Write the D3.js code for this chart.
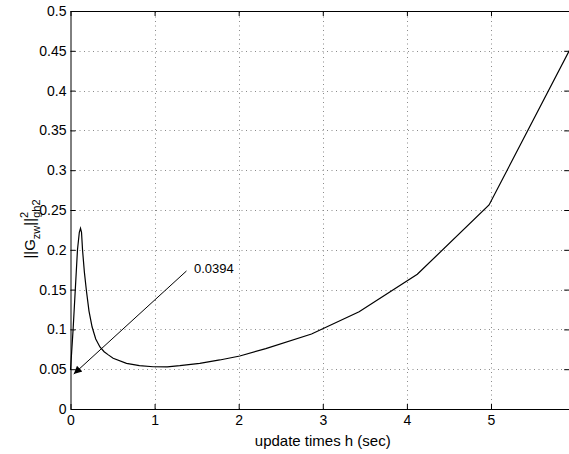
<!DOCTYPE html>
<html>
<head>
<meta charset="utf-8">
<script src="https://cdn.jsdelivr.net/npm/d3@7"></script>
<style>
  body { margin: 0; background: #fff; }
  svg { display: block; font-family: "Liberation Sans", Arial, sans-serif; }
</style>
</head>
<body>
<div id="chart"></div>
<script>
// values
const hValues = [0, 0.031, 0.083, 0.105, 0.119, 0.131, 0.143, 0.165, 0.19, 0.22, 0.257, 0.3, 0.35, 0.4, 0.45, 0.507,
    0.666, 0.82, 0.982, 1.15, 1.30, 1.537, 1.775, 2.013, 2.322, 2.866, 3.432, 4.124, 4.977, 5.93];
const normValues = [0.049, 0.1, 0.2, 0.222, 0.227, 0.222, 0.2, 0.172, 0.148, 0.123, 0.103, 0.088, 0.078, 0.072, 0.068, 0.0637,
    0.0574, 0.0545, 0.0531, 0.053, 0.0544, 0.0574, 0.0616, 0.0666, 0.0758, 0.0942, 0.1222, 0.1693, 0.2563, 0.45];
const xTicks = [0, 1, 2, 3, 4, 5];
const yTicks = [0, 0.05, 0.1, 0.15, 0.2, 0.25, 0.3, 0.35, 0.4, 0.45, 0.5];
const arrowFrom = [1.379, 0.1734];
const arrowTo = [0.039, 0.044];
const noteAt = [1.468, 0.1709];
const noteText = "0.0394";

const W = 569, H = 454;
const plotLeft = 70.5, plotRight = 569.2, plotTop = 11, plotBottom = 409;

const svg = d3.select("#chart")
    .append("svg")
    .attr("width", W)
    .attr("height", H);

svg.append("rect").attr("width", W).attr("height", H).attr("fill", "#fff");

const x = d3.scaleLinear().domain([0, 5.93]).range([plotLeft, plotRight]);
const y = d3.scaleLinear().domain([0, 0.5]).range([plotBottom, plotTop]);

// dotted grid
const grid = svg.append("g")
    .attr("stroke", "#8a8a8a")
    .attr("stroke-width", 1)
    .attr("stroke-dasharray", "1,3.5");

grid.selectAll(".gx")
    .data(xTicks.filter(d => d > 0))
    .enter()
    .append("line")
    .attr("x1", d => Math.round(x(d)) + 0.5)
    .attr("x2", d => Math.round(x(d)) + 0.5)
    .attr("y1", plotBottom)
    .attr("y2", plotTop);

grid.selectAll(".gy")
    .data(yTicks.filter(d => d > 0 && d < 0.5))
    .enter()
    .append("line")
    .attr("y1", d => Math.round(y(d)) + 0.5)
    .attr("y2", d => Math.round(y(d)) + 0.5)
    .attr("x1", plotLeft)
    .attr("x2", plotRight);

// axes, ticks point inward like matlab
svg.append("g")
    .attr("transform", `translate(0, ${plotBottom})`)
    .call(d3.axisBottom(x).tickValues(xTicks).tickFormat(d3.format("d"))
        .tickSizeInner(-5).tickSizeOuter(0).tickPadding(6));

svg.append("g")
    .attr("transform", `translate(${plotLeft}, 0)`)
    .call(d3.axisLeft(y).tickValues(yTicks).tickFormat(d => String(+d.toFixed(2)))
        .tickSizeInner(-5).tickSizeOuter(0).tickPadding(4));

svg.append("g")
    .attr("transform", `translate(0, ${plotTop})`)
    .call(d3.axisTop(x).tickValues(xTicks).tickSizeInner(-5).tickSizeOuter(0).tickFormat(""));

svg.append("g")
    .attr("transform", `translate(${plotRight}, 0)`)
    .call(d3.axisRight(y).tickValues(yTicks).tickSizeInner(-5).tickSizeOuter(0).tickFormat(""));

svg.selectAll(".domain, .tick line").attr("stroke", "#000");
svg.selectAll(".tick text")
    .attr("fill", "#000")
    .style("font-size", "14px")
    .style("font-family", "Liberation Sans, Arial, sans-serif");

// the curve
const line = d3.line()
    .x(d => x(d[0]))
    .y(d => y(d[1]));

svg.append("path")
    .datum(hValues.map((h, i) => [h, normValues[i]]))
    .attr("d", line)
    .attr("fill", "none")
    .attr("stroke", "#000")
    .attr("stroke-width", 1.2);

// annotation arrow
svg.append("defs").append("marker")
    .attr("id", "head")
    .attr("viewBox", "0 0 10 10")
    .attr("refX", 10)
    .attr("refY", 5)
    .attr("markerWidth", 10)
    .attr("markerHeight", 8)
    .attr("markerUnits", "userSpaceOnUse")
    .attr("orient", "auto")
    .append("path")
    .attr("d", "M0,0L10,5L0,10Z")
    .attr("fill", "#000");

svg.append("line")
    .attr("x1", x(arrowFrom[0]))
    .attr("y1", y(arrowFrom[1]))
    .attr("x2", x(arrowTo[0]))
    .attr("y2", y(arrowTo[1]))
    .attr("stroke", "#000")
    .attr("stroke-width", 1)
    .attr("marker-end", "url(#head)");

svg.append("text")
    .text(noteText)
    .attr("x", x(noteAt[0]))
    .attr("y", y(noteAt[1]))
    .style("font-size", "13px")
    .attr("fill", "#000");

// axis labels
svg.append("text")
    .text("update times h (sec)")
    .attr("x", (plotLeft + 569) / 2 + 3)
    .attr("y", 446)
    .attr("text-anchor", "middle")
    .style("font-size", "15px")
    .attr("fill", "#000");

const yl = svg.append("text")
    .attr("transform", `translate(35, ${(plotTop + plotBottom) / 2 + 19}) rotate(-90)`)
    .attr("text-anchor", "middle")
    .style("font-size", "15px")
    .attr("fill", "#000");
yl.append("tspan").text("||G");
yl.append("tspan").text("zw").attr("dy", 5).style("font-size", "11px");
yl.append("tspan").text("||").attr("dy", -5);
yl.append("tspan").text("2").attr("dy", -7).style("font-size", "11px");
yl.append("tspan").text("gh2").attr("dx", -6).attr("dy", 12).style("font-size", "11px");
</script>
</body>
</html>
